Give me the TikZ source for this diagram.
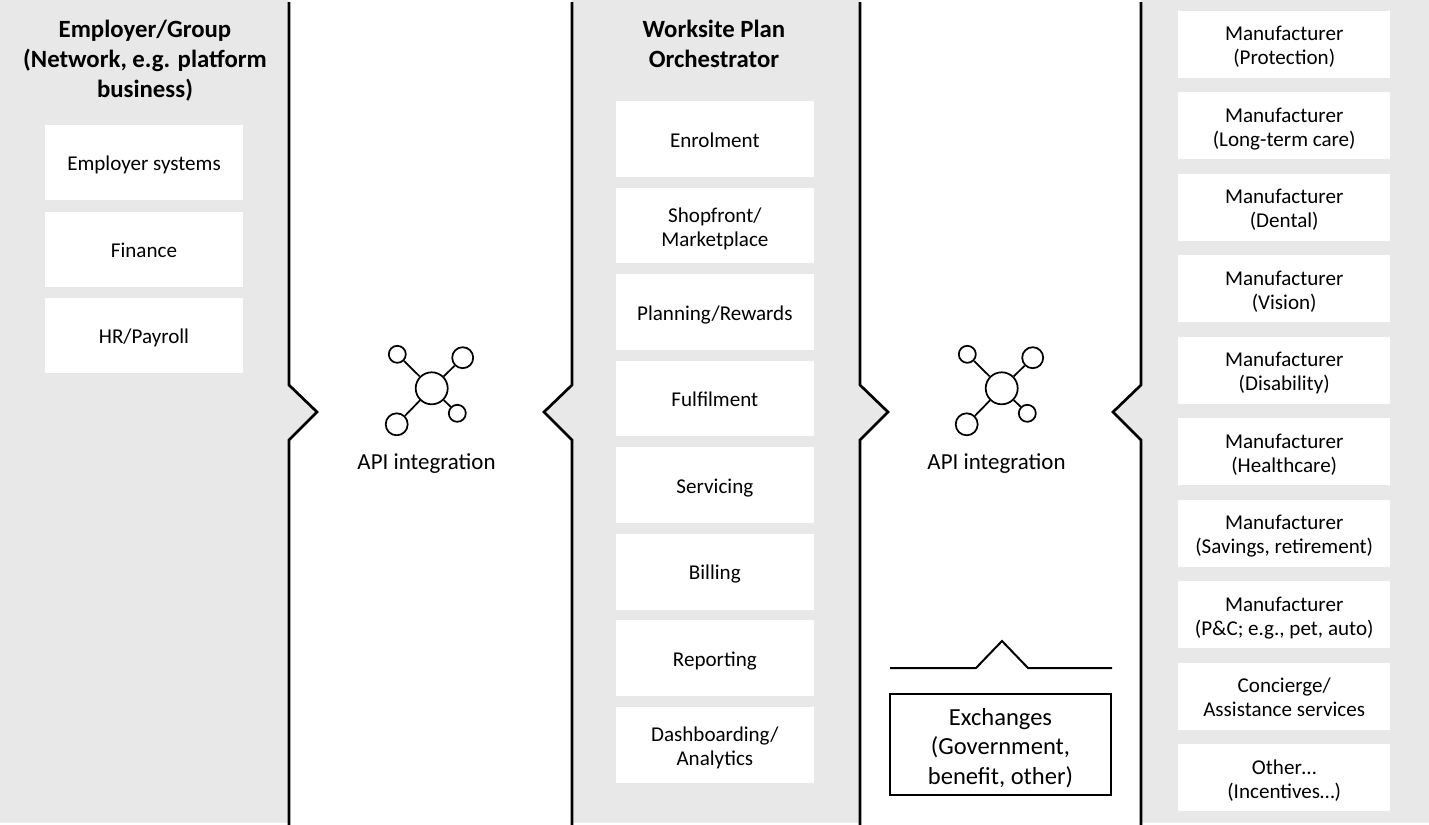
\documentclass[tikz,border=0pt]{standalone}
\usepackage{fontspec}
\setmainfont{Carlito}
\definecolor{panelgrey}{RGB}{232,232,232}
\newcommand\boxfont{\fontsize{15.8}{18}\selectfont}
\newcommand\titlefont{\fontsize{18.6}{22.5}\selectfont\bfseries}
\newcommand\apifont{\fontsize{17.2}{22}\selectfont}
\newcommand\exfont{\fontsize{18.4}{22.2}\selectfont}
\tikzset{
  panel/.style={fill=panelgrey, draw=none},
  divider/.style={black, line width=2pt, line join=miter},
  item/.style={fill=white, inner sep=0pt, align=center, font=\boxfont,
    execute at begin node={\rule{0pt}{#1}}, execute at end node={\rule[-3.5pt]{0pt}{3.5pt}}},
  item/.default=16pt,
  title/.style={align=center, font=\titlefont},
  hub/.style={draw, circle, line width=1.3pt, inner sep=0pt, fill=white},
  spoke/.style={line width=1.3pt}
}
\begin{document}
\begin{tikzpicture}[x=0.75pt, y=-0.75pt]
\useasboundingbox (0,0) rectangle (1429,825);
\fill[panel] (0,0) -- (289,0) -- (289,385) -- (317,412) -- (289,440) -- (289,822.5) -- (0,822.5) -- cycle;
\fill[panel] (572,0) -- (572,385) -- (543,412) -- (572,440) -- (572,822.5) -- (860,822.5) -- (860,440) -- (888,412) -- (860,385) -- (860,0) -- cycle;
\fill[panel] (1141,0) -- (1429,0) -- (1429,822.5) -- (1141,822.5) -- (1141,440) -- (1113,412) -- (1141,385) -- cycle;
\foreach \lx/\d in {289/1, 572/-1, 860/1, 1141/-1} {
 \draw[divider] (\lx,2) -- (\lx,385) -- ++(28*\d,27) -- ++(-28*\d,28) -- (\lx,825);
}

\node[title] (employer) at (145,60.5) {Employer/Group\\(Network, e.g. platform\\business)};
\node[title] (orchestrator) at (714,43.5) {Worksite Plan\\Orchestrator};

\foreach \t [count=\i] in {Employer systems, Finance, HR/Payroll} {
 \node[item, minimum width=148.5pt, minimum height=56.25pt] (emp\i) at (144, {162.5+(\i-1)*86.5}) {\t};
}
\foreach \t/\h [count=\i] in {Enrolment/16pt, {Shopfront/\\Marketplace}/34.5pt, {Planning/Rewards}/16pt, Fulfilment/16pt, Servicing/16pt, Billing/16pt, Reporting/16pt, {Dashboarding/\\Analytics}/34.5pt} {
 \node[item=\h, minimum width=148.3pt, minimum height=56.8pt] (wpo\i) at (714.85, {138.8+(\i-1)*86.57}) {\t};
}
\foreach \t [count=\i] in {{Manufacturer\\(Protection)}, {Manufacturer\\(Long-term care)}, {Manufacturer\\(Dental)}, {Manufacturer\\(Vision)}, {Manufacturer\\(Disability)}, {Manufacturer\\(Healthcare)}, {Manufacturer\\(Savings, retirement)}, {Manufacturer\\(P\&C; e.g., pet, auto)}, {Concierge/\\Assistance services}, {Other…\\(Incentives…)}} {
 \node[item=34.2pt, minimum width=158.8pt, minimum height=50.25pt] (mfr\i) at (1284.2, {44.5+(\i-1)*81.48}) {\t};
}

\foreach \s/\dx in {l/0, r/570} {
 \node[hub, minimum size=24pt] (hub\s) at (431.7+\dx,388.3) {};
 \node[hub, minimum size=12.75pt] (tl\s) at (397.3+\dx,354.3) {};
 \node[hub, minimum size=15.75pt] (tr\s) at (462.7+\dx,357.7) {};
 \node[hub, minimum size=16.5pt] (bl\s) at (396.7+\dx,424.3) {};
 \node[hub, minimum size=12.75pt] (br\s) at (457.3+\dx,413.3) {};
 \foreach \n in {tl,tr,bl,br} \draw[spoke] (hub\s) -- (\n\s);
 \node[font=\apifont] (api\s) at (426.5+\dx,463.5) {API integration};
}

\draw[black, line width=1.5pt] (890,668) -- (976,668) -- (1002,641) -- (1028,668) -- (1112,668);
\node[draw, line width=1.5pt, minimum width=165.75pt, minimum height=75.5pt, align=center, font=\exfont,
  execute at begin node={\rule{0pt}{62.5pt}}] (exchanges) at (1000.5,744.4) {Exchanges\\(Government,\\benefit, other)};
\end{tikzpicture}
\end{document}
